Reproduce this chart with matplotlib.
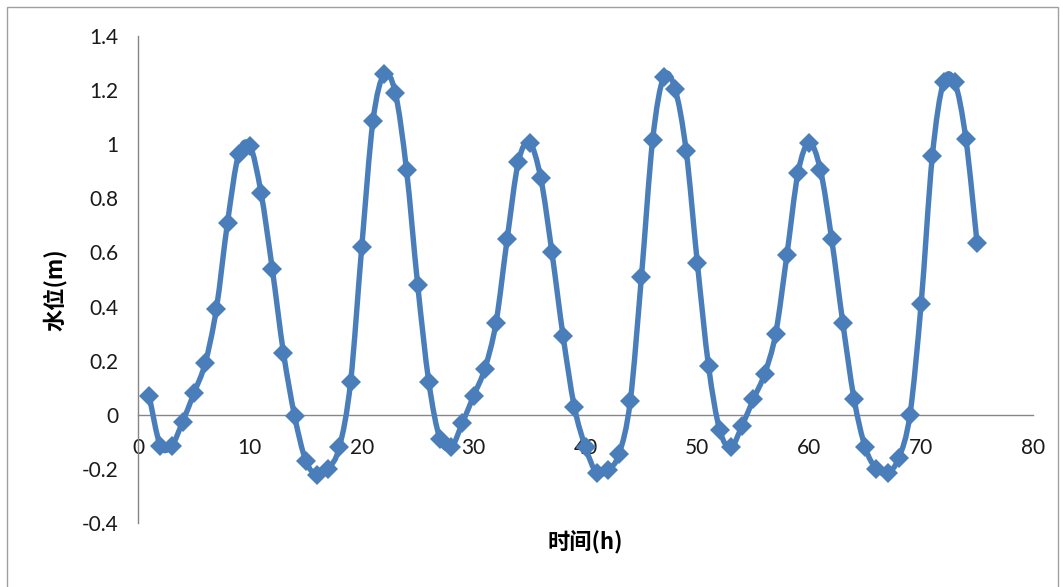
import numpy as np
import matplotlib
matplotlib.use("Agg")
import matplotlib.pyplot as plt
from matplotlib.path import Path
from matplotlib.patches import PathPatch, Rectangle

# ---- data ----
hours = list(range(1, 76))
water_level = [
    0.07, -0.115, -0.115, -0.025, 0.08, 0.19, 0.39, 0.71, 0.965, 0.995,
    0.82, 0.54, 0.23, -0.005, -0.17, -0.222, -0.20, -0.12, 0.12, 0.62,
    1.085, 1.258, 1.19, 0.905, 0.48, 0.12, -0.09, -0.12, -0.03, 0.07,
    0.17, 0.34, 0.65, 0.935, 1.005, 0.875, 0.60, 0.29, 0.03, -0.12,
    -0.215, -0.205, -0.145, 0.05, 0.51, 1.015, 1.25, 1.205, 0.975, 0.56,
    0.18, -0.057, -0.12, -0.04, 0.057, 0.15, 0.30, 0.59, 0.895, 1.005,
    0.905, 0.65, 0.34, 0.06, -0.12, -0.20, -0.215, -0.16, 0.0, 0.41,
    0.955, 1.23, 1.23, 1.02, 0.635,
]
xticks = [0, 10, 20, 30, 40, 50, 60, 70, 80]
yticks = [-0.4, -0.2, 0, 0.2, 0.4, 0.6, 0.8, 1, 1.2, 1.4]
ytick_labels = ["-0.4", "-0.2", "0", "0.2", "0.4", "0.6", "0.8", "1", "1.2", "1.4"]
xlabel = "时间(h)"
ylabel = "水位(m)"

BLUE = "#4a7ebb"
GRAY = "#868686"

plt.rcParams['font.family'] = ['Lato', 'DejaVu Sans']

W, H = 1063, 587
fig = plt.figure(figsize=(W / 100, H / 100), dpi=100)
fig.patch.set_facecolor("white")
# chart-area border
fig.patches.append(Rectangle((7 / W, -0.1), (1058 - 7) / W, 1.1 - 7 / H,
                             transform=fig.transFigure, fill=False,
                             edgecolor="#a0a0a0", linewidth=1.0))

ax = fig.add_axes([138 / W, 1 - 523 / H, (1033 - 138) / W, (523 - 36) / H])
ax.set_xlim(0, 80)
ax.set_ylim(-0.4, 1.4)

# smoothed line (Catmull-Rom -> cubic Bezier through the data points)
x = np.asarray(hours, float)
y = np.asarray(water_level, float)
P = np.column_stack([x, y])
Pext = np.vstack([P[0], P, P[-1]])
verts = [tuple(P[0])]
codes = [Path.MOVETO]
for i in range(len(P) - 1):
    p0, p1, p2, p3 = Pext[i], Pext[i + 1], Pext[i + 2], Pext[i + 3]
    c1 = p1 + (p2 - p0) / 6.0
    c2 = p2 - (p3 - p1) / 6.0
    verts += [tuple(c1), tuple(c2), tuple(p2)]
    codes += [Path.CURVE4] * 3
ax.add_patch(PathPatch(Path(verts, codes), facecolor="none", edgecolor=BLUE,
                       linewidth=3.9, capstyle="round", joinstyle="round",
                       zorder=3, clip_on=False))
ax.plot(x, y, linestyle="none", marker="D", markersize=10.5, color=BLUE,
        markeredgewidth=0, zorder=4, clip_on=False)

# axes styling (Excel-like)
for s in ["top", "right"]:
    ax.spines[s].set_visible(False)
ax.spines["left"].set_color(GRAY)
ax.spines["bottom"].set_color(GRAY)
ax.spines["left"].set_linewidth(1.0)
ax.spines["bottom"].set_linewidth(1.0)
ax.spines["bottom"].set_position(("data", 0))

ax.set_xticks(xticks)
ax.set_xticklabels([str(v) for v in xticks])
ax.set_yticks(yticks)
ax.set_yticklabels(ytick_labels)
ax.tick_params(axis="both", length=0, labelsize=15, colors="#1a1a1a")
ax.tick_params(axis="x", pad=17)
ax.tick_params(axis="y", pad=14)

fig.text(55 / W, 1 - 290 / H, ylabel, rotation=90, ha="center", va="center",
         fontsize=16, fontweight="bold",
         family=['Noto Sans CJK SC', 'DejaVu Sans'])
fig.text(585 / W, 1 - 543 / H, xlabel, ha="center", va="center",
         fontsize=16, fontweight="bold",
         family=['Noto Sans CJK SC', 'DejaVu Sans'])

fig.savefig("out.png", dpi=100, facecolor="white")
